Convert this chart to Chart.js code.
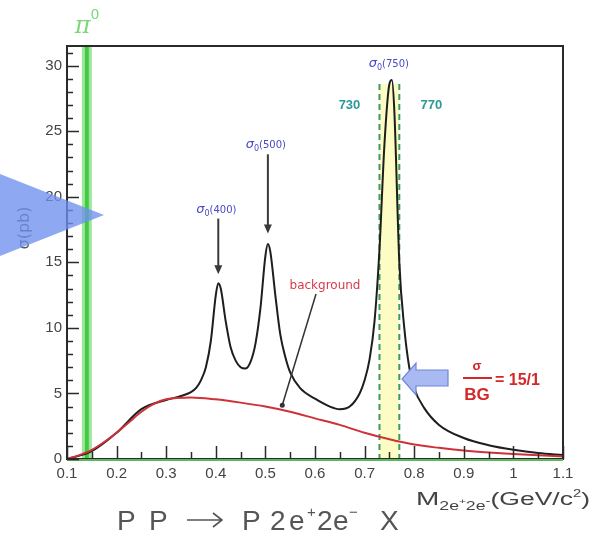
<!DOCTYPE html>
<html>
<head>
<meta charset="utf-8">
<script src="https://cdn.jsdelivr.net/npm/chart.js@4.4.1/dist/chart.umd.min.js"></script>
<style>
  html, body { margin: 0; padding: 0; background: #fff; }
  #wrap { width: 595px; height: 537px; position: relative; }
</style>
</head>
<body>
<div id="wrap"><canvas id="massPlot"></canvas></div>
<script>
// invariant mass of the 2e+2e- system (GeV/c^2) and cross section (pb)
var totalMass = [0.10, 0.15, 0.20, 0.25, 0.30, 0.33, 0.35, 0.36, 0.37, 0.38, 0.39, 0.40, 0.405, 0.41,
    0.42, 0.43, 0.44, 0.45, 0.46, 0.47, 0.48, 0.49, 0.50, 0.505, 0.51, 0.52, 0.53, 0.54, 0.55,
    0.57, 0.60, 0.63, 0.65, 0.67, 0.69, 0.70, 0.71, 0.72, 0.73, 0.74, 0.75, 0.755, 0.76, 0.77, 0.78,
    0.79, 0.80, 0.82, 0.85, 0.90, 0.95, 1.00, 1.05, 1.10];
var totalSigma = [0, 0.6, 2.0, 3.8, 4.5, 4.8, 5.1, 5.4, 6.0, 7.0, 9.0, 12.5, 13.4, 13.0,
    10.5, 8.5, 7.5, 7.0, 6.9, 7.4, 8.8, 11.5, 15.5, 16.4, 15.8, 12.5, 9.5, 7.8, 6.6,
    5.4, 4.6, 4.0, 3.8, 4.0, 5.0, 6.0, 7.6, 10.5, 16.0, 24.0, 28.6, 28.9, 26.5, 15.0, 10.0,
    7.0, 5.4, 3.9, 2.6, 1.6, 1.05, 0.7, 0.45, 0.3];

var bgMass = [0.10, 0.125, 0.15, 0.175, 0.20, 0.225, 0.25, 0.275, 0.30, 0.35, 0.40, 0.45, 0.50,
    0.55, 0.60, 0.65, 0.70, 0.75, 0.80, 0.85, 0.90, 0.95, 1.00, 1.05, 1.10];
var bgSigma = [0, 0.3, 0.7, 1.3, 2.0, 2.8, 3.6, 4.2, 4.55, 4.7, 4.55, 4.3, 4.0,
    3.6, 3.1, 2.6, 2.0, 1.5, 1.1, 0.85, 0.65, 0.5, 0.38, 0.28, 0.2];

var xTickValues = [0.1, 0.2, 0.3, 0.4, 0.5, 0.6, 0.7, 0.8, 0.9, 1, 1.1];
var yTickValues = [0, 5, 10, 15, 20, 25, 30];

// marked resonances: name, mass, where the label sits and where its arrow stops (pb)
var peakLabels = ['400', '500', '750'];
var peakMass = [0.405, 0.505, 0.753];
var peakLabelAt = [19.1, 24.0, 30.2];
var peakArrowTo = [14.1, 17.2, null];
var pi0Band = [0.13, 0.15];
var massWindow = [0.73, 0.77];
var windowLabels = ['730', '770'];
var ratioText = ['σ', 'BG', '= 15/1'];

function toPoints(xs, ys) {
    var pts = [];
    for (var i = 0; i < xs.length; i++) pts.push({x: xs[i], y: ys[i]});
    return pts;
}

// write a run of text pieces (sub/superscripts) from left to right
function drawRuns(ctx, x, y, runs) {
    for (var i = 0; i < runs.length; i++) {
        var r = runs[i];
        ctx.font = r.font;
        ctx.fillStyle = r.color;
        ctx.fillText(r.text, x, y + (r.dy || 0));
        x += ctx.measureText(r.text).width + (r.gap || 0);
    }
    return x;
}

function runsWidth(ctx, runs) {
    var w = 0;
    for (var i = 0; i < runs.length; i++) {
        ctx.font = runs[i].font;
        w += ctx.measureText(runs[i].text).width + (runs[i].gap || 0);
    }
    return w;
}

// same as drawRuns but squeezed/stretched sideways to span a given width
function drawRunsFit(ctx, x, y, width, runs) {
    var w = runsWidth(ctx, runs);
    ctx.save();
    ctx.translate(x, y);
    ctx.scale(width / w, 1);
    drawRuns(ctx, 0, 0, runs);
    ctx.restore();
}

function arrowDown(ctx, x, y0, y1) {
    ctx.strokeStyle = '#3a3a3a';
    ctx.fillStyle = '#3a3a3a';
    ctx.lineWidth = 2;
    ctx.beginPath();
    ctx.moveTo(x, y0);
    ctx.lineTo(x, y1 - 6);
    ctx.stroke();
    ctx.beginPath();
    ctx.moveTo(x - 4, y1 - 9);
    ctx.lineTo(x + 4, y1 - 9);
    ctx.lineTo(x, y1);
    ctx.closePath();
    ctx.fill();
}

var bandsPlugin = {
    id: 'bands',
    beforeDatasetsDraw: function (chart) {
        var ctx = chart.ctx, xs = chart.scales.x, ys = chart.scales.y, a = chart.chartArea;
        ctx.save();
        // yellow mass window
        var wl = xs.getPixelForValue(massWindow[0]), wr = xs.getPixelForValue(massWindow[1]);
        var wt = ys.getPixelForValue(28.6);
        ctx.fillStyle = '#fdfcc4';
        ctx.fillRect(wl, wt, wr - wl, a.bottom - wt);
        ctx.strokeStyle = '#3d9a66';
        ctx.lineWidth = 2;
        ctx.setLineDash([6, 4]);
        [wl, wr].forEach(function (px) {
            ctx.beginPath();
            ctx.moveTo(px, wt);
            ctx.lineTo(px, a.bottom);
            ctx.stroke();
        });
        ctx.setLineDash([]);
        // pi0 band
        var pl = xs.getPixelForValue(pi0Band[0]), pr = xs.getPixelForValue(pi0Band[1]);
        ctx.fillStyle = '#9be89b';
        ctx.fillRect(pl, a.top, pr - pl, a.bottom - a.top);
        ctx.fillStyle = '#45c845';
        ctx.fillRect(pl + 3, a.top, pr - pl - 6, a.bottom - a.top);
        ctx.restore();
    },
    afterDraw: function (chart) {
        var ctx = chart.ctx, xs = chart.scales.x, ys = chart.scales.y, a = chart.chartArea;
        ctx.save();

        // frame and green baseline
        ctx.strokeStyle = '#2a2a2a';
        ctx.lineWidth = 2;
        ctx.strokeRect(a.left, a.top, a.right - a.left, a.bottom - a.top);
        ctx.strokeStyle = '#5cb85c';
        ctx.beginPath();
        ctx.moveTo(a.left, a.bottom + 1);
        ctx.lineTo(a.right, a.bottom + 1);
        ctx.stroke();

        // inward ticks
        ctx.strokeStyle = '#2a2a2a';
        ctx.lineWidth = 1.5;
        for (var v = 0; v <= 31; v++) {
            var py = Math.round(ys.getPixelForValue(v)) + 0.5;
            var len = (v % 5 === 0) ? 12 : 6;
            ctx.beginPath();
            ctx.moveTo(a.left, py);
            ctx.lineTo(a.left + len, py);
            ctx.stroke();
        }
        for (var k = 0; k <= 20; k++) {
            var m = 0.1 + k * 0.05;
            var px = Math.round(xs.getPixelForValue(m)) + 0.5;
            var tl = (k % 2 === 0) ? 13 : 7;
            ctx.beginPath();
            ctx.moveTo(px, a.bottom);
            ctx.lineTo(px, a.bottom - tl);
            ctx.stroke();
        }

        // pi0 label
        var pcx = xs.getPixelForValue((pi0Band[0] + pi0Band[1]) / 2);
        ctx.textBaseline = 'alphabetic';
        ctx.textAlign = 'left';
        drawRuns(ctx, pcx - 12, 33, [
            {text: 'π', font: 'italic 24px "DejaVu Serif"', color: '#7ad87a'},
            {text: '0', font: '14px "DejaVu Sans"', color: '#7ad87a', dy: -14}
        ]);

        // resonance labels with arrows
        for (var i = 0; i < peakLabels.length; i++) {
            var cx = xs.getPixelForValue(peakMass[i]);
            var ly = ys.getPixelForValue(peakLabelAt[i]);
            var runs = [
                {text: 'σ', font: 'italic 13px "DejaVu Sans"', color: '#4848c8'},
                {text: '0', font: '8px "DejaVu Sans"', color: '#4848c8', dy: 3},
                {text: '(' + peakLabels[i] + ')', font: '10px "DejaVu Sans"', color: '#4848c8'}
            ];
            var w = runsWidth(ctx, runs);
            drawRuns(ctx, cx - w / 2 - 2, ly + 4, runs);
            if (peakArrowTo[i] !== null) {
                arrowDown(ctx, cx, ly + 10, ys.getPixelForValue(peakArrowTo[i]));
            }
        }

        // window edge labels
        ctx.font = 'bold 13px "Liberation Sans"';
        ctx.fillStyle = '#2a9a96';
        ctx.textAlign = 'center';
        ctx.fillText(windowLabels[0], xs.getPixelForValue(massWindow[0]) - 30, ys.getPixelForValue(26.7));
        ctx.fillText(windowLabels[1], xs.getPixelForValue(massWindow[1]) + 32, ys.getPixelForValue(26.7));

        // background label and pointer
        ctx.font = '12px "DejaVu Sans"';
        ctx.fillStyle = '#d83a4a';
        ctx.fillText('background', 325, 289);
        ctx.strokeStyle = '#333';
        ctx.lineWidth = 1.5;
        var bx = xs.getPixelForValue(0.534), by = ys.getPixelForValue(4.1);
        ctx.beginPath();
        ctx.moveTo(316, 294);
        ctx.lineTo(bx, by);
        ctx.stroke();
        ctx.fillStyle = '#333';
        ctx.beginPath();
        ctx.arc(bx, by, 2.5, 0, Math.PI * 2);
        ctx.fill();

        // signal to background ratio with block arrow
        ctx.fillStyle = '#a9b9f2';
        ctx.strokeStyle = '#6f86d8';
        ctx.lineWidth = 1.2;
        ctx.beginPath();
        ctx.moveTo(448, 370);
        ctx.lineTo(416, 370);
        ctx.lineTo(416, 363);
        ctx.lineTo(402, 379);
        ctx.lineTo(416, 395);
        ctx.lineTo(416, 386);
        ctx.lineTo(448, 386);
        ctx.closePath();
        ctx.fill();
        ctx.stroke();

        ctx.fillStyle = '#d42828';
        ctx.textAlign = 'center';
        ctx.font = 'bold 13px "Liberation Sans"';
        ctx.fillText(ratioText[0], 477, 370);
        ctx.fillRect(463, 377, 29, 2);
        ctx.font = 'bold 17px "Liberation Sans"';
        ctx.fillText(ratioText[1], 477, 400);
        ctx.textAlign = 'left';
        ctx.font = 'bold 16px "Liberation Sans"';
        ctx.fillText(ratioText[2], 495, 385);

        // axis titles
        ctx.save();
        ctx.translate(29, 228);
        ctx.rotate(-Math.PI / 2);
        ctx.textAlign = 'center';
        ctx.font = '16px "DejaVu Sans"';
        ctx.fillStyle = '#555';
        ctx.fillText('σ(pb)', 0, 0);
        ctx.restore();

        ctx.textAlign = 'left';
        drawRunsFit(ctx, 416, 505, 174, [
            {text: 'M', font: '19px "Liberation Sans"', color: '#444'},
            {text: '2e', font: '12px "Liberation Sans"', color: '#444', dy: 5},
            {text: '+', font: '8px "Liberation Sans"', color: '#444', dy: -1},
            {text: '2e', font: '12px "Liberation Sans"', color: '#444', dy: 5},
            {text: '-', font: '10px "Liberation Sans"', color: '#444', dy: -1},
            {text: '(GeV/c', font: '18px "Liberation Sans"', color: '#444'},
            {text: '2', font: '10px "Liberation Sans"', color: '#444', dy: -8},
            {text: ')', font: '18px "Liberation Sans"', color: '#444'}
        ]);

        // reaction  P P -> P 2e+ 2e- X
        ctx.fillStyle = '#555';
        ctx.font = '28px "Liberation Sans"';
        var glyphs = [['P', 117], ['P', 149], ['P', 242], ['2', 270], ['e', 289],
            ['2', 317], ['e', 333], ['X', 380]];
        glyphs.forEach(function (g) { ctx.fillText(g[0], g[1], 530); });
        ctx.font = '15px "Liberation Sans"';
        ctx.fillText('+', 307, 517);
        ctx.fillText('−', 349, 517);
        ctx.strokeStyle = '#555';
        ctx.lineWidth = 1.6;
        ctx.beginPath();
        ctx.moveTo(187, 520);
        ctx.lineTo(222, 520);
        ctx.moveTo(213, 513);
        ctx.lineTo(222, 520);
        ctx.lineTo(213, 527);
        ctx.stroke();

        // slide pointer on the left
        ctx.fillStyle = 'rgba(110, 145, 238, 0.78)';
        ctx.beginPath();
        ctx.moveTo(0, 174);
        ctx.lineTo(104, 215);
        ctx.lineTo(0, 256);
        ctx.closePath();
        ctx.fill();

        ctx.restore();
    }
};

new Chart(document.getElementById('massPlot'), {
    type: 'scatter',
    data: {
        datasets: [{
            data: toPoints(bgMass, bgSigma),
            showLine: true,
            borderColor: '#d03038',
            borderWidth: 2,
            pointRadius: 0,
            cubicInterpolationMode: 'monotone'
        }, {
            data: toPoints(totalMass, totalSigma),
            showLine: true,
            borderColor: '#1e1e1e',
            borderWidth: 2,
            pointRadius: 0,
            cubicInterpolationMode: 'monotone'
        }]
    },
    options: {
        responsive: true,
        maintainAspectRatio: false,
        animation: false,
        layout: {padding: {top: 46, right: 32, left: 0, bottom: 0}},
        plugins: {legend: {display: false}, tooltip: {enabled: false}},
        scales: {
            x: {
                type: 'linear',
                min: 0.1,
                max: 1.1,
                grid: {display: false, drawTicks: false},
                border: {display: false},
                afterBuildTicks: function (s) {
                    s.ticks = xTickValues.map(function (v) { return {value: v}; });
                },
                afterFit: function (s) { s.height = 78; },
                ticks: {
                    padding: 6,
                    color: '#444',
                    font: {family: '"Liberation Sans"', size: 15},
                    maxRotation: 0,
                    autoSkip: false,
                    callback: function (v) { return String(Math.round(v * 10) / 10); }
                }
            },
            y: {
                type: 'linear',
                min: 0,
                max: 31.5,
                grid: {display: false, drawTicks: false},
                border: {display: false},
                afterBuildTicks: function (s) {
                    s.ticks = yTickValues.map(function (v) { return {value: v}; });
                },
                afterFit: function (s) { s.width = 67; },
                ticks: {
                    padding: 5,
                    color: '#444',
                    font: {family: '"Liberation Sans"', size: 15}
                }
            }
        }
    },
    plugins: [bandsPlugin]
});
</script>
</body>
</html>
